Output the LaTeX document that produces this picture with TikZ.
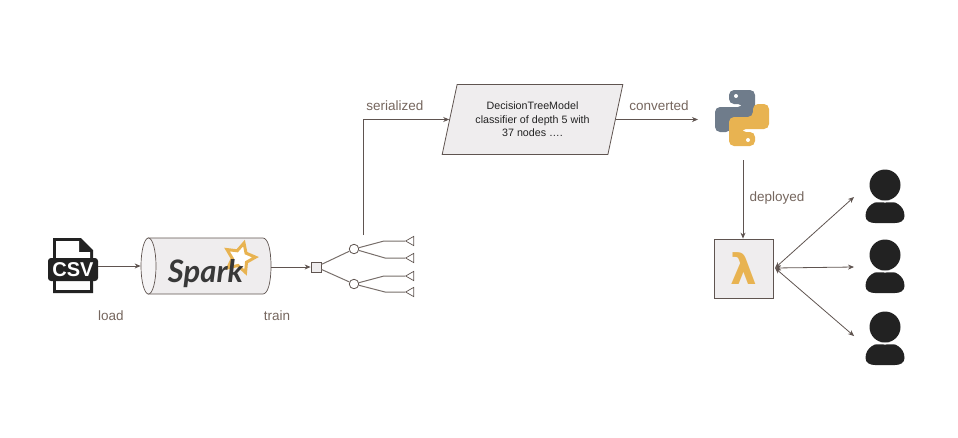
\documentclass[tikz,border=0pt]{standalone}
\usepackage{fontspec}
\setmainfont{Liberation Sans}
\newfontfamily\sparkfont{Lato}
\newfontfamily\lambdafont{DejaVu Sans}
\usetikzlibrary{shapes.geometric,arrows.meta}
\definecolor{lineC}{HTML}{5F5450}
\definecolor{labelC}{HTML}{75665E}
\definecolor{fillC}{HTML}{EFEDEE}
\definecolor{orangeC}{HTML}{E8B351}
\definecolor{slateC}{HTML}{6F7C8B}
\definecolor{inkC}{HTML}{222222}
\tikzset{
  link/.style={draw=lineC,line width=.8pt,-{Stealth[length=6pt,width=5pt]}},
  usrlink/.style={draw=lineC,line width=.8pt,{Stealth[length=6pt,width=5pt]}-{Stealth[length=6pt,width=5pt]}},
  branch/.style={draw=lineC!85!white,line width=1pt},
  tag/.style={text=labelC,font=\fontsize{13.5}{15}\selectfont,inner sep=0pt},
  splitnode/.style={circle,draw=lineC,line width=.8pt,fill=white,minimum size=9.5pt,inner sep=0pt},
  leafnode/.style={isosceles triangle,isosceles triangle apex angle=60,shape border rotate=180,draw=lineC,
    line width=.7pt,fill=white,minimum size=8pt,inner sep=0pt}
}
\begin{document}
\begin{tikzpicture}[x=1pt,y=-1pt]
\useasboundingbox (0,0) rectangle (958,437);
    % csv file
    \fill[inkC] (53,238) -- (81,238) -- (93,250) -- (93,293) -- (53,293) -- cycle;
    \fill[white] (56,241) -- (79,241) -- (79,252) -- (90,252) -- (90,258) -- (56,258) -- cycle;
    \fill[white] (56,281) rectangle (90,290);
    \node[fill=inkC,rounded corners=3pt,minimum width=50pt,minimum height=23pt,inner sep=0pt,text=white,
      font=\fontsize{20}{20}\selectfont\bfseries] (csv) at (73,269.5) {CSV};
    % spark
    \draw[draw=lineC,line width=.7pt,fill=fillC] (148,238) -- (263,238)
      .. controls (268,238) and (271,250) .. (271,266) .. controls (271,282) and (268,294) .. (263,294)
      -- (148,294) -- cycle;
    \node[ellipse,draw=lineC,line width=.7pt,fill=fillC!60!white,minimum width=15pt,minimum height=56pt,
      inner sep=0pt] (sparkcap) at (148.5,266) {};
    \coordinate (sparkend) at (271,267);
    \node[star,star points=5,star point ratio=2,draw=orangeC,line width=3pt,fill=white,minimum size=31pt,
      inner sep=0pt,rotate=-15] (sparkstar) at (240,258) {};
    \node[font=\sparkfont\itshape\bfseries\fontsize{31}{31}\selectfont,text=inkC!90!white,inner sep=0pt] (sparktext) at (205.5,274) {Spark};
    % tree
    \node[draw=lineC,line width=.8pt,fill=fillC,minimum size=10pt,inner sep=0pt] (root) at (316,267) {};
    \node[splitnode] (upper) at (354,249) {};
    \node[splitnode] (lower) at (354,284) {};
    \node[leafnode] (leafA) at (411,241) {};
    \node[leafnode] (leafB) at (411,258) {};
    \node[leafnode] (leafC) at (411,276) {};
    \node[leafnode] (leafD) at (411,292) {};
    \draw[branch] (root) -- (upper);
    \draw[branch] (root) -- (lower);
    \draw[branch] (upper) -- (384,241) -- (leafA.west);
    \draw[branch] (upper) -- (385,258) -- (leafB.west);
    \draw[branch] (lower) -- (384,276) -- (leafC.west);
    \draw[branch] (lower) -- (385,292) -- (leafD.west);
    % model
    \node[trapezium,trapezium left angle=72,trapezium right angle=108,trapezium stretches=true,draw=lineC,
      line width=.8pt,fill=fillC,minimum width=181pt,minimum height=70pt,inner sep=0pt,align=center,
      text=inkC,font=\fontsize{10.7}{13.5}\selectfont] (model) at (532.5,119.5)
      {DecisionTreeModel\\classifier of depth 5 with\\37 nodes \dots.};
    % python
    \begin{scope}[shift={(742,118)}]
    \foreach \turn/\col in {0/slateC,180/orangeC}{
      \begin{scope}[rotate=\turn]
      \fill[\col,rounded corners=5pt] (-13,-28) -- (13,-28) -- (13,1) -- (-11,1) -- (-11,14) -- (-27,14)
        -- (-27,-11) -- (1,-11) -- (1,-14) -- (-13,-14) -- cycle;
      \fill[white] (-6,-22) circle (2pt);
      \end{scope}
    }
    \end{scope}
    \coordinate (python) at (743,160);
    % lambda
    \node[draw=lineC,line width=.8pt,fill=fillC,minimum size=59pt,inner sep=0pt,text=orangeC,
      font=\lambdafont\bfseries\fontsize{42}{42}\selectfont] (lambda) at (743.5,268.5) {λ};
    \coordinate (gate) at (775,268);
    % users
    \foreach \i/\ypos/\ytip in {1/185/197,2/255/267,3/327/336}{
      \node[circle,fill=inkC,minimum size=31pt,inner sep=0pt] (head\i) at (885,\ypos) {};
      \fill[inkC] (885,\ypos+15.5) .. controls (876,\ypos+15.5) and (865.5,\ypos+20) .. (865.5,\ypos+31)
        .. controls (865.5,\ypos+36) and (870,\ypos+38) .. (875,\ypos+38) -- (895,\ypos+38)
        .. controls (900,\ypos+38) and (904.5,\ypos+36) .. (904.5,\ypos+31)
        .. controls (904.5,\ypos+20) and (894,\ypos+15.5) .. (885,\ypos+15.5) -- cycle;
      \fill[white] (885,\ypos+16.5) ellipse (15pt and 1pt);
      \coordinate (user\i) at (854,\ytip);
      \draw[usrlink] (gate) -- (user\i);
    }
    % links
    \draw[link] (csv.east |- sparkcap.west) -- (sparkcap.west);
    \draw[link] (sparkend) -- (root);
    \coordinate (fork) at (363,235);
    \draw[link] (fork) |- (model.west);
    \coordinate (pythonin) at (698,119.5);
    \draw[link] (model.east) -- (pythonin);
    \draw[link] (python) -- (python |- lambda.north);
    % labels
    \node[tag] (loadtag) at (111,316) {load};
    \node[tag] (traintag) at (277,316) {train};
    \node[tag] (serialtag) at (395,106) {serialized};
    \node[tag] (converttag) at (659,106) {converted};
    \node[tag] (deploytag) at (777,198) {deployed};
\end{tikzpicture}
\end{document}
